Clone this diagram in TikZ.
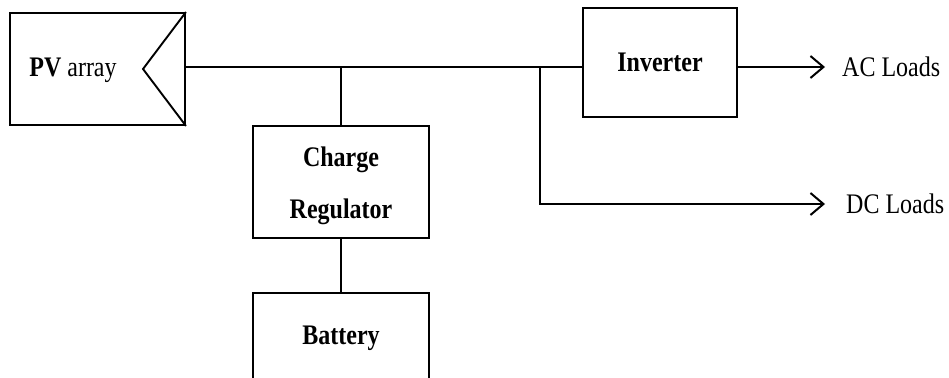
\documentclass[tikz,border=0pt]{standalone}
\usepackage{fontspec}
\setmainfont{Liberation Serif}
\usetikzlibrary{arrows.meta}
\newcommand{\tall}[1]{\scalebox{1}[1.18]{#1}}
\begin{document}
\begin{tikzpicture}[x=1pt,y=-1pt,
  box/.style={draw,line width=1.9pt,inner sep=0pt},
  btxt/.style={inner sep=0pt,font=\fontsize{24}{28}\selectfont\bfseries},
  wire/.style={line width=1.9pt},
  arr/.style={line width=2pt,-{Straight Barb[length=13pt,width=22pt,line width=2pt]}},
  lbl/.style={anchor=west,inner sep=0pt,font=\fontsize{24}{28}\selectfont}]
\useasboundingbox (0,0) rectangle (949,377);
\node[box,minimum width=175pt,minimum height=112pt] (pv) at (97.5,69) {};
\node[inner sep=0pt,font=\fontsize{24}{28}\selectfont] (pvt) at (73,70) {\tall{\textbf{PV} array}};
\draw[line width=1.9pt] (pv.north east) -- (143,69) -- (pv.south east);
\node[box,minimum width=154pt,minimum height=109pt] (inv) at (660,62.5) {};
\node[btxt] (invt) at (660,62) {\tall{Inverter}};
\node[box,minimum width=176pt,minimum height=112pt] (cr) at (341,182) {};
\node[btxt] (crt1) at (341,160) {\tall{Charge}};
\node[btxt] (crt2) at (341,212) {\tall{Regulator}};
\node[box,minimum width=176pt,minimum height=100pt] (bat) at (341,343) {};
\node[btxt] (batt) at (341,338) {\tall{Battery}};
\coordinate (j1) at (341,67);
\coordinate (j2) at (540,67);
\coordinate (ace) at (825,67);
\coordinate (dce) at (825,204);
\node[lbl] (ac) at (842,67) {\tall{AC Loads}};
\node[lbl] (dc) at (846,204) {\tall{DC Loads}};
\draw[wire] (pv.east |- j1) -- (inv.west |- j1);
\draw[wire] (j1) -- (cr.north);
\draw[wire] (cr.south) -- (bat.north);
\draw[arr] (inv.east |- ace) -- (ace);
\draw[arr] (j2) |- (dce);
\end{tikzpicture}
\end{document}
